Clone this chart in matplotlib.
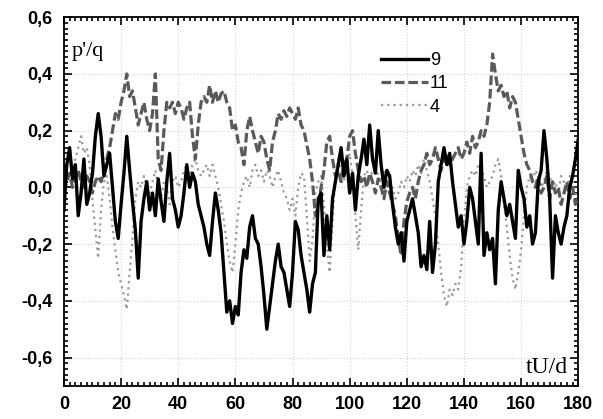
import numpy as np
import matplotlib
matplotlib.use("Agg")
import matplotlib.pyplot as plt
from matplotlib.ticker import MultipleLocator, FuncFormatter

# time axis tU/d, one sample per unit
t = np.arange(0, 181)

# curve "9" (solid black)
p9 = [-0.08, 0.08, 0.14, 0.03, 0.08, -0.1, -0.02, 0.1, -0.06, -0.02,
      0.05, 0.18, 0.26, 0.18, 0.04, 0.08, 0.12, 0.0, -0.12, -0.18,
      -0.06, 0.05, 0.18, 0.06, -0.05, -0.15, -0.32, -0.12, -0.04, 0.02,
      -0.08, -0.02, -0.1, 0.03, -0.05, -0.12, 0.02, 0.12, -0.04, -0.08,
      -0.14, -0.1, -0.02, 0.08, 0.0, 0.05, 0.02, -0.06, -0.1, -0.14,
      -0.2, -0.24, -0.12, -0.02, -0.08, -0.16, -0.3, -0.44, -0.4, -0.48,
      -0.42, -0.45, -0.3, -0.22, -0.25, -0.14, -0.1, -0.18, -0.2, -0.28,
      -0.38, -0.5, -0.42, -0.34, -0.26, -0.2, -0.28, -0.3, -0.36, -0.42,
      -0.3, -0.12, -0.15, -0.24, -0.3, -0.36, -0.44, -0.34, -0.3, -0.04,
      -0.02, -0.24, -0.1, -0.22, -0.04, 0.02, 0.08, 0.14, 0.04, 0.1,
      -0.02, 0.05, -0.08, 0.04, 0.1, 0.17, 0.08, 0.22, 0.1, 0.05,
      0.2, 0.08, 0.0, 0.06, 0.04, -0.06, -0.14, -0.2, -0.16, -0.26,
      -0.12, -0.08, -0.04, -0.1, -0.16, -0.28, -0.24, -0.29, -0.12, -0.3,
      -0.2, 0.02, 0.08, 0.14, 0.08, 0.12, 0.02, -0.06, -0.14, -0.1,
      -0.2, -0.12, 0.0, -0.04, -0.12, -0.2, 0.12, -0.24, -0.16, -0.22,
      -0.18, -0.34, -0.08, 0.02, -0.04, -0.1, -0.06, -0.12, -0.18, 0.06,
      0.0, -0.04, -0.14, -0.1, -0.2, -0.16, 0.02, 0.06, 0.2, 0.1,
      -0.04, -0.32, -0.1, -0.16, -0.2, -0.14, -0.1, 0.0, 0.04, 0.1,
      0.17]

# curve "11" (dashed grey)
p11 = [-0.02, 0.02, 0.05, 0.0, 0.03, 0.06, 0.02, 0.0, 0.04, 0.02,
       -0.02, 0.02, 0.04, 0.02, 0.06, 0.1, 0.14, 0.2, 0.26, 0.24,
       0.3, 0.34, 0.4, 0.32, 0.34, 0.28, 0.22, 0.26, 0.3, 0.24,
       0.2, 0.26, 0.4, 0.1, 0.06, 0.2, 0.3, 0.28, 0.3, 0.26,
       0.3, 0.28, 0.24, 0.28, 0.3, 0.18, 0.1, 0.22, 0.3, 0.32,
       0.3, 0.36, 0.3, 0.34, 0.3, 0.33, 0.34, 0.3, 0.28, 0.2,
       0.22, 0.16, 0.14, 0.08, 0.2, 0.25, 0.2, 0.16, 0.12, 0.18,
       0.16, 0.1, 0.06, 0.16, 0.2, 0.26, 0.24, 0.27, 0.25, 0.28,
       0.26, 0.24, 0.28, 0.22, 0.2, 0.15, 0.1, 0.02, -0.1, -0.06,
       0.0, 0.06, 0.16, 0.18, 0.1, 0.04, 0.06, 0.02, 0.08, 0.1,
       0.18, 0.2, 0.12, 0.06, 0.02, 0.04, 0.0, 0.05, 0.02, -0.02,
       0.03, 0.0, -0.04, 0.02, -0.02, -0.06, -0.1, -0.18, -0.24, -0.12,
       -0.05, -0.02, 0.0, -0.04, 0.02, 0.06, 0.08, 0.12, 0.08, 0.1,
       0.14, 0.1, 0.06, 0.1, 0.12, 0.08, 0.1, 0.12, 0.14, 0.1,
       0.12, 0.16, 0.12, 0.18, 0.14, 0.16, 0.2, 0.18, 0.22, 0.3,
       0.47, 0.4, 0.34, 0.36, 0.32, 0.34, 0.28, 0.32, 0.3, 0.24,
       0.18, 0.12, 0.08, 0.06, 0.02, 0.0, 0.04, -0.02, 0.0, 0.04,
       -0.04, 0.02, -0.02, 0.0, -0.06, -0.02, 0.02, -0.04, 0.0, -0.06,
       -0.04]

# curve "4" (dotted light grey)
p4 = [0.02, 0.08, 0.12, 0.06, 0.1, 0.14, 0.18, 0.12, 0.14, 0.08,
      -0.05, -0.15, -0.25, -0.08, 0.02, 0.04, -0.04, -0.14, -0.22, -0.3,
      -0.34, -0.38, -0.43, -0.3, -0.18, -0.04, 0.02, 0.0, 0.04, 0.0,
      -0.02, 0.02, 0.06, 0.0, -0.04, 0.02, 0.0, -0.06, 0.02, 0.04,
      0.0, 0.02, 0.06, 0.08, 0.04, 0.08, 0.1, 0.06, 0.04, 0.06,
      0.08, 0.04, 0.08, 0.04, 0.0, -0.06, -0.12, -0.2, -0.26, -0.3,
      -0.2, -0.08, -0.02, 0.02, 0.04, 0.0, 0.06, 0.08, 0.04, 0.06,
      0.02, 0.06, 0.04, 0.0, 0.04, 0.06, 0.02, -0.02, -0.04, -0.08,
      -0.04, -0.1, 0.0, 0.05, 0.04, -0.1, -0.26, -0.18, -0.02, 0.02,
      0.04, -0.06, -0.2, -0.3, -0.12, 0.04, 0.1, 0.06, 0.02, 0.08,
      0.12, 0.04, -0.1, -0.22, -0.08, 0.04, 0.06, 0.02, 0.06, 0.08,
      0.04, 0.02, 0.06, 0.02, -0.02, 0.0, -0.04, -0.02, 0.02, 0.0,
      0.04, 0.02, 0.06, 0.04, 0.08, 0.05, 0.1, 0.06, 0.02, -0.04,
      -0.1, -0.2, -0.3, -0.38, -0.42, -0.36, -0.38, -0.34, -0.36, -0.28,
      -0.12, 0.0, 0.04, 0.06, 0.04, 0.08, 0.06, 0.04, 0.0, 0.02,
      0.04, 0.08, 0.1, 0.04, -0.06, -0.14, -0.24, -0.32, -0.36, -0.3,
      -0.22, -0.1, 0.0, 0.04, 0.02, 0.06, 0.04, 0.0, 0.02, 0.06,
      0.04, 0.0, 0.02, -0.02, 0.04, 0.02, 0.0, 0.04, 0.02, -0.02,
      -0.06]

fig = plt.figure(figsize=(6.03, 4.19), dpi=100)
ax = fig.add_axes([0.106, 0.079, 0.853, 0.880])

ax.plot(t, p4, color="#999999", lw=1.6, ls=(0, (1, 1.8)), label="4", zorder=2)
ax.plot(t, p11, color="#5a5a5a", lw=2.3, ls=(0, (3, 1.2)), label="11", zorder=3)
ax.plot(t, p9, color="black", lw=2.4, label="9", zorder=4)

ax.set_xlim(0, 180)
ax.set_ylim(-0.7, 0.6)
ax.xaxis.set_major_locator(MultipleLocator(20))
ax.xaxis.set_minor_locator(MultipleLocator(2))
ax.yaxis.set_major_locator(MultipleLocator(0.2))
ax.yaxis.set_minor_locator(MultipleLocator(0.02))
ax.yaxis.set_major_formatter(FuncFormatter(lambda v, p: ("%.1f" % v).replace(".", ",").replace("-0,0", "0,0")))
ax.tick_params(which="both", direction="in", top=True, right=True, width=1.2)
ax.tick_params(which="major", length=6, labelsize=13)
ax.tick_params(axis="y", which="major", pad=8)
ax.tick_params(axis="x", which="major", pad=7)
ax.tick_params(which="minor", length=3)
for lbl in ax.get_xticklabels() + ax.get_yticklabels():
    lbl.set_fontfamily("Liberation Sans")
    lbl.set_fontweight("bold")
for s in ax.spines.values():
    s.set_linewidth(1.3)
ax.grid(True, which="major", color="#d4d4d4", ls=":", lw=0.8)

ax.text(0.016, 0.895, "p'/q", transform=ax.transAxes, family="Liberation Serif", fontsize=16)
ax.text(0.979, 0.035, "tU/d", transform=ax.transAxes, family="Liberation Serif", fontsize=17, ha="right")

h, l = ax.get_legend_handles_labels()
ax.legend(h[::-1], l[::-1], loc="upper left", bbox_to_anchor=(0.585, 0.95), frameon=False,
          handlelength=2.6, handletextpad=0.1, labelspacing=0.35,
          prop={"family": "Liberation Sans", "size": 13})

fig.savefig("out.png", dpi=100)
